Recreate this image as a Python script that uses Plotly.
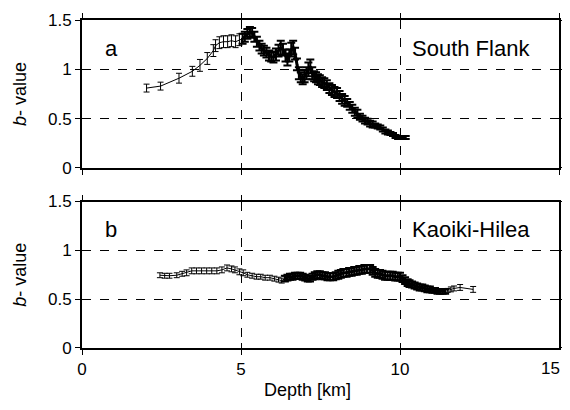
import plotly.graph_objects as go

# ---- Panel a: South Flank (shallow, sparse part) ----
depth_a_sparse = [2.03, 2.47, 3.05, 3.47, 3.71, 3.94, 4.13,
                  4.20, 4.32, 4.45, 4.58, 4.70, 4.83, 4.95, 5.05]
b_a_sparse = [0.81, 0.83, 0.91, 0.98, 1.04, 1.11, 1.19,
              1.24, 1.27, 1.28, 1.28, 1.29, 1.28, 1.30, 1.31]
err_a_sparse = [0.04, 0.04, 0.05, 0.05, 0.06, 0.06, 0.06,
                0.06, 0.06, 0.06, 0.06, 0.06, 0.06, 0.06, 0.05]

# ---- Panel a: South Flank (dense part) ----
depth_a_dense = [5.05, 5.12, 5.20, 5.28, 5.35, 5.42, 5.50, 5.58, 5.65, 5.72,
                 5.80, 5.88, 5.95, 6.02, 6.10, 6.18, 6.25, 6.32, 6.40, 6.46,
                 6.52, 6.58, 6.64, 6.70, 6.76, 6.82, 6.88, 6.94, 7.00, 7.06,
                 7.12, 7.18, 7.24, 7.30, 7.36, 7.42, 7.48, 7.55, 7.62, 7.70,
                 7.78, 7.86, 7.94, 8.02, 8.10, 8.18, 8.26, 8.34, 8.42, 8.50,
                 8.58, 8.66, 8.74, 8.82, 8.90, 8.98, 9.06, 9.14, 9.22, 9.30,
                 9.38, 9.46, 9.54, 9.62, 9.70, 9.78, 9.86, 9.94, 10.02, 10.10, 10.18]
b_a_dense = [1.31, 1.33, 1.36, 1.38, 1.37, 1.33, 1.28, 1.24, 1.21, 1.19,
             1.17, 1.14, 1.13, 1.12, 1.15, 1.19, 1.22, 1.20, 1.14, 1.10,
             1.14, 1.20, 1.22, 1.16, 1.05, 0.96, 0.92, 0.90, 0.93, 0.96,
             1.00, 1.03, 0.96, 0.93, 0.92, 0.90, 0.89, 0.87, 0.86, 0.84,
             0.81, 0.79, 0.77, 0.76, 0.73, 0.70, 0.68, 0.66, 0.63, 0.60,
             0.57, 0.55, 0.52, 0.50, 0.48, 0.47, 0.45, 0.44, 0.43, 0.42,
             0.41, 0.39, 0.37, 0.36, 0.35, 0.34, 0.32, 0.31, 0.31, 0.31, 0.31]
err_a_dense = [0.05, 0.05, 0.05, 0.05, 0.05, 0.05, 0.05, 0.05, 0.05, 0.05,
               0.05, 0.05, 0.05, 0.05, 0.06, 0.06, 0.07, 0.06, 0.06, 0.06,
               0.06, 0.07, 0.07, 0.06, 0.06, 0.06, 0.05, 0.05, 0.06, 0.06,
               0.07, 0.07, 0.06, 0.05, 0.05, 0.05, 0.05, 0.05, 0.05, 0.05,
               0.05, 0.05, 0.05, 0.05, 0.05, 0.05, 0.05, 0.04, 0.04, 0.04,
               0.04, 0.04, 0.03, 0.03, 0.03, 0.03, 0.03, 0.03, 0.02, 0.02,
               0.02, 0.02, 0.02, 0.02, 0.015, 0.015, 0.015, 0.015, 0.015, 0.015, 0.015]

# ---- Panel b: Kaoiki-Hilea ----
depth_b_sparse = [2.45, 2.60, 2.75, 2.98, 3.15, 3.29, 3.45, 3.60, 3.76, 3.92,
                  4.08, 4.24, 4.40, 4.56, 4.70, 4.81, 4.95, 5.07, 5.20, 5.35,
                  5.49, 5.62, 5.76, 5.91, 6.05, 6.18, 6.28, 6.38]
b_b_sparse = [0.745, 0.74, 0.74, 0.745, 0.76, 0.77, 0.79, 0.79, 0.79, 0.79,
              0.79, 0.79, 0.80, 0.82, 0.81, 0.80, 0.78, 0.77, 0.75, 0.74,
              0.73, 0.73, 0.72, 0.72, 0.71, 0.70, 0.69, 0.71]
err_b_sparse = [0.025, 0.025, 0.025, 0.025, 0.025, 0.03, 0.03, 0.03, 0.03, 0.03,
                0.03, 0.03, 0.03, 0.03, 0.03, 0.03, 0.03, 0.03, 0.025, 0.025,
                0.025, 0.025, 0.025, 0.025, 0.025, 0.025, 0.025, 0.025]

depth_b_dense = [6.38, 6.46, 6.54, 6.62, 6.70, 6.78, 6.86, 6.94, 7.02, 7.10,
                 7.17, 7.25, 7.32, 7.40, 7.48, 7.56, 7.64, 7.72, 7.80, 7.90,
                 7.98, 8.06, 8.14, 8.22, 8.32, 8.40, 8.48, 8.56, 8.64, 8.72,
                 8.80, 8.88, 8.96, 9.06, 9.14, 9.22, 9.30, 9.37, 9.45, 9.53,
                 9.61, 9.69, 9.77, 9.85, 9.93, 10.00, 10.08, 10.16, 10.24, 10.30,
                 10.38, 10.46, 10.54, 10.62, 10.70, 10.78, 10.86, 10.94, 11.02, 11.10,
                 11.18, 11.26, 11.34, 11.42]
b_b_dense = [0.71, 0.72, 0.73, 0.73, 0.74, 0.74, 0.74, 0.73, 0.72, 0.71,
             0.71, 0.73, 0.74, 0.75, 0.75, 0.74, 0.74, 0.73, 0.73, 0.73,
             0.74, 0.75, 0.76, 0.77, 0.77, 0.78, 0.78, 0.79, 0.79, 0.80,
             0.80, 0.81, 0.81, 0.81, 0.79, 0.77, 0.76, 0.76, 0.75, 0.74,
             0.74, 0.74, 0.74, 0.73, 0.73, 0.73, 0.71, 0.69, 0.67, 0.66,
             0.65, 0.64, 0.63, 0.62, 0.62, 0.61, 0.60, 0.60, 0.59, 0.59,
             0.58, 0.58, 0.58, 0.58]
err_b_dense = [0.03, 0.03, 0.03, 0.03, 0.03, 0.03, 0.03, 0.03, 0.03, 0.03,
               0.03, 0.03, 0.035, 0.035, 0.035, 0.035, 0.035, 0.035, 0.035, 0.035,
               0.035, 0.04, 0.04, 0.04, 0.04, 0.04, 0.04, 0.04, 0.04, 0.04,
               0.04, 0.04, 0.04, 0.04, 0.04, 0.04, 0.04, 0.04, 0.04, 0.04,
               0.04, 0.04, 0.04, 0.04, 0.04, 0.04, 0.035, 0.035, 0.035, 0.035,
               0.03, 0.03, 0.03, 0.03, 0.03, 0.03, 0.03, 0.03, 0.025, 0.025,
               0.025, 0.025, 0.025, 0.025]

depth_b_tail = [11.42, 11.50, 11.60, 11.70, 11.89, 12.30]
b_b_tail = [0.58, 0.59, 0.60, 0.61, 0.62, 0.60]
err_b_tail = [0.02, 0.02, 0.025, 0.025, 0.03, 0.03]

x_ticks = [0, 5, 10, 15]
x_tick_text = ["0", "5", "10", "15"]
y_ticks = [0, 0.5, 1, 1.5]
y_tick_text = ["0", "0.5", "1", "1.5"]
panel_labels = ["a", "b"]
region_labels = ["South Flank", "Kaoiki-Hilea"]
x_title = "Depth [km]"
y_title = "<i>b</i>- value"

FONT = "Liberation Sans, Arial, sans-serif"
THIN = dict(line=1, err=1, cap=3)
THICK = dict(line=3, err=2, cap=4)

fig = go.Figure()
series = [
    (depth_a_sparse, b_a_sparse, err_a_sparse, "x", "y", THIN),
    (depth_a_dense, b_a_dense, err_a_dense, "x", "y", THICK),
    (depth_b_sparse, b_b_sparse, err_b_sparse, "x2", "y2", THIN),
    (depth_b_dense, b_b_dense, err_b_dense, "x2", "y2", THICK),
    (depth_b_tail, b_b_tail, err_b_tail, "x2", "y2", THIN),
]
for xs, ys, es, xa, ya, st in series:
    fig.add_trace(go.Scatter(
        x=xs, y=ys, mode="lines", xaxis=xa, yaxis=ya,
        line=dict(color="black", width=st["line"]),
        error_y=dict(type="data", array=es, visible=True, color="black",
                     thickness=st["err"], width=st["cap"]),
        showlegend=False, hoverinfo="x+y"))

# empty traces so that the overlay (inside-tick) axes are drawn
for xa, ya in [("x3", "y3"), ("x4", "y4")]:
    fig.add_trace(go.Scatter(x=[None], y=[None], xaxis=xa, yaxis=ya,
                             showlegend=False, hoverinfo="skip"))

tickfont = dict(family=FONT, size=17, color="black")
axis_common = dict(showline=True, linecolor="black", linewidth=2, mirror="ticks",
                   showgrid=True, gridcolor="black", gridwidth=1, griddash="dash",
                   zeroline=False, ticks="outside", ticklen=5, tickwidth=1,
                   tickcolor="black", tickfont=tickfont, automargin=False)
overlay_common = dict(showline=False, showgrid=False, zeroline=False, mirror="ticks",
                      ticks="inside", ticklen=5, tickwidth=1, tickcolor="black",
                      showticklabels=False, automargin=False)

top_dom = [0.5488, 1.0]
bot_dom = [0.0, 0.4466]

# The page body adds an 8 px margin; the figure is sized so the page fits the
# 570x410 window without scrollbars.
fig.update_layout(
    width=554, height=394,
    margin=dict(l=74, r=3, t=12, b=54),
    paper_bgcolor="white", plot_bgcolor="white",
    font=dict(family=FONT, color="black"),
    xaxis=dict(range=[0, 15], tickvals=x_ticks, showticklabels=False,
               anchor="y", domain=[0, 1], **axis_common),
    yaxis=dict(range=[0, 1.5], tickvals=y_ticks, ticktext=y_tick_text,
               domain=top_dom, anchor="x", **axis_common),
    xaxis2=dict(range=[0, 15], tickvals=x_ticks[:-1], ticktext=x_tick_text[:-1],
                anchor="y2", domain=[0, 1], **axis_common),
    yaxis2=dict(range=[0, 1.5], tickvals=y_ticks, ticktext=y_tick_text,
                domain=bot_dom, anchor="x2", **axis_common),
    xaxis3=dict(range=[0, 15], tickvals=x_ticks, overlaying="x", anchor="y3",
                **overlay_common),
    yaxis3=dict(range=[0, 1.5], tickvals=y_ticks, overlaying="y", anchor="x3",
                domain=top_dom, **overlay_common),
    xaxis4=dict(range=[0, 15], tickvals=x_ticks, overlaying="x2", anchor="y4",
                **overlay_common),
    yaxis4=dict(range=[0, 1.5], tickvals=y_ticks, overlaying="y2", anchor="x4",
                domain=bot_dom, **overlay_common),
)

# last x tick label kept inside the window edge
fig.add_annotation(x=x_ticks[-1], y=0, xref="x2", yref="paper", text=x_tick_text[-1],
                   showarrow=False, xanchor="right", yanchor="middle",
                   xshift=3, yshift=-20, font=tickfont)

# axis titles as annotations (positioned like the original)
fig.add_annotation(x=0.4717, y=-0.1646, xref="paper", yref="paper", text=x_title,
                   showarrow=False, xanchor="center", yanchor="bottom",
                   font=dict(family=FONT, size=18, color="black"))
for dom in (top_dom, bot_dom):
    fig.add_annotation(x=-0.13, y=(dom[0] + dom[1]) / 2, xref="paper", yref="paper",
                       text=y_title, textangle=-90, showarrow=False,
                       xanchor="center", yanchor="middle",
                       font=dict(family=FONT, size=18, color="black"))

for i, (xr, yr) in enumerate([("x", "y"), ("x2", "y2")]):
    fig.add_annotation(x=0.66, y=1.21, xref=xr, yref=yr, text=panel_labels[i],
                       showarrow=False, xanchor="left", yanchor="middle",
                       font=dict(family=FONT, size=22, color="black"))
    fig.add_annotation(x=14.15, y=1.21, xref=xr, yref=yr, text=region_labels[i],
                       showarrow=False, xanchor="right", yanchor="middle",
                       font=dict(family=FONT, size=22, color="black"))

fig.write_html("out.html")
